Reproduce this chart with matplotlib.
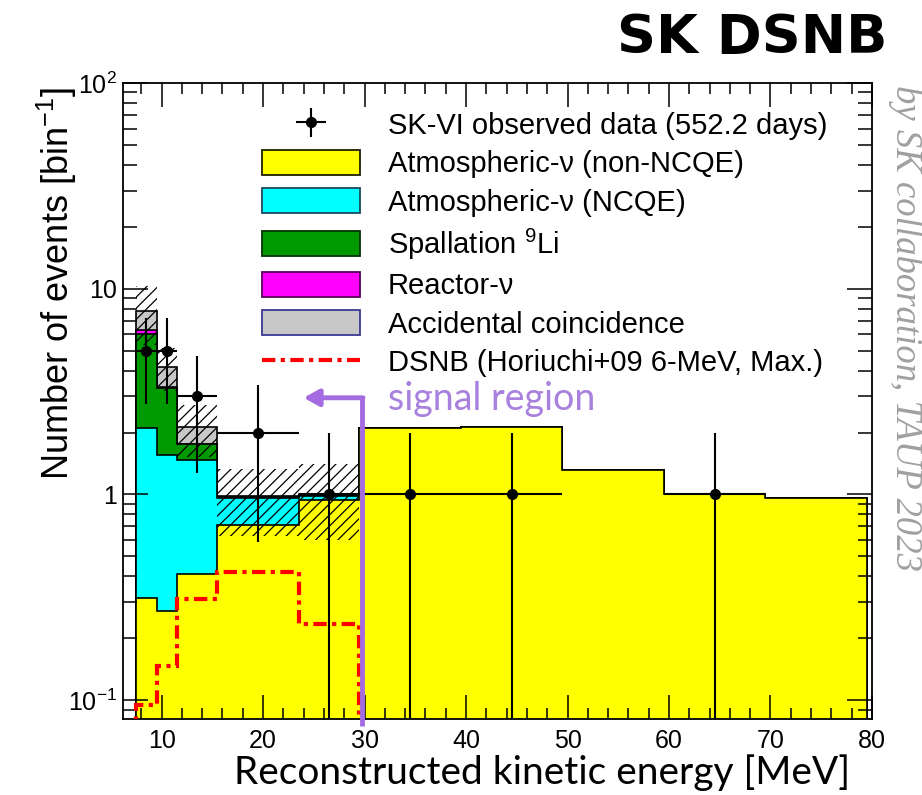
import matplotlib
matplotlib.use("Agg")
import matplotlib.pyplot as plt
import matplotlib.patches as mpatches
from matplotlib.lines import Line2D
from matplotlib.ticker import MultipleLocator, FixedLocator, FixedFormatter, LogLocator, NullFormatter
import numpy as np

plt.rcParams['font.family'] = ['Liberation Sans', 'DejaVu Sans']
plt.rcParams['mathtext.fontset'] = 'custom'
plt.rcParams['mathtext.rm'] = 'Liberation Sans'
plt.rcParams['mathtext.it'] = 'Liberation Sans:italic'
plt.rcParams['hatch.linewidth'] = 0.9

# energy bins [MeV]
edges = [7.5, 9.5, 11.5, 15.5, 23.5, 29.5, 39.5, 49.5, 59.5, 69.5, 79.5]

# background components per bin (events/bin)
atm_non_ncqe = [0.315, 0.27, 0.41, 0.71, 0.94, 2.10, 2.12, 1.31, 1.00, 0.965]
atm_ncqe = [1.785, 1.28, 1.06, 0.255, 0.045, 0, 0, 0, 0, 0]
spall_li9 = [3.93, 1.74, 0.28, 0.005, 0.005, 0, 0, 0, 0, 0]
reactor = [0.27, 0.03, 0.01, 0, 0, 0, 0, 0, 0, 0]
accidental = [1.5, 0.85, 0.36, 0.01, 0.01, 0, 0, 0, 0, 0]

# total background uncertainty (first five bins)
bkg_err = [2.5, 1.0, 0.6, 0.35, 0.4]

# DSNB prediction, Horiuchi+09 6 MeV
dsnb = [0.095, 0.146, 0.31, 0.42, 0.235]

# observed data
obs_x = [8.5, 10.5, 13.5, 19.5, 26.5, 34.5, 44.5, 64.5]
obs_xerr = [1, 1, 2, 4, 3, 5, 5, 5]
obs_n = [5, 5, 3, 2, 1, 1, 1, 1]

labels = ["SK-VI observed data (552.2 days)",
          "Atmospheric-\u03bd (non-NCQE)",
          "Atmospheric-\u03bd (NCQE)",
          "Spallation $^{9}$Li",
          "Reactor-\u03bd",
          "Accidental coincidence",
          "DSNB (Horiuchi+09 6-MeV, Max.)"]

fills = ['#ffff00', '#00ffff', '#009a00', '#ff00ff', '#c8c8c8']
edgec = ['#202000', '#1a4a5a', '#003300', '#5a005a', '#3a3a90']
dashdot = (0, (3.2, 1.3, 1, 1.3))

fig = plt.figure(figsize=(9.22, 7.95), dpi=100)
ax = fig.add_axes([0.133, 0.0956, 0.8127, 0.800])

stack = np.array([atm_non_ncqe, atm_ncqe, spall_li9, reactor, accidental])
cum = np.cumsum(stack, axis=0)

# ROOT-style stack: biggest first, smaller ones on top
for i in range(len(stack) - 1, -1, -1):
    ax.stairs(cum[i], edges, baseline=1e-3, fill=True, facecolor=fills[i],
              edgecolor='black', linewidth=1.2, zorder=1 + (4 - i) * 0.1)

# uncertainty band
nerr = len(bkg_err)
tot = cum[-1][:nerr]
err = np.array(bkg_err)
ax.bar(edges[:nerr], 2 * err, bottom=tot - err, width=np.diff(edges[:nerr + 1]),
       align='edge', fill=False, hatch='///', edgecolor='black', linewidth=0, zorder=2)

# signal prediction
ax.stairs(dsnb, edges[:len(dsnb) + 1], baseline=1e-3, color='#ff0000', linewidth=3,
          linestyle=dashdot, zorder=3)

# data points with sqrt(N) errors
n = np.array(obs_n, dtype=float)
lo = np.minimum(np.sqrt(n), n - 1e-3)
hi = np.sqrt(n)
data = ax.errorbar(obs_x, n, xerr=obs_xerr, yerr=[lo, hi], fmt='o', color='black',
                   ms=7, elinewidth=1.5, capsize=0, zorder=5)

ax.set_yscale('log')
ax.set_xlim(6.16, 80)
ax.set_ylim(0.081, 100)

ax.xaxis.set_major_locator(MultipleLocator(10))
ax.xaxis.set_minor_locator(MultipleLocator(2))
ax.yaxis.set_major_locator(FixedLocator([0.1, 1, 10, 100]))
ax.yaxis.set_major_formatter(FixedFormatter(['$10^{-1}$', '1', '10', '$10^{2}$']))
ax.yaxis.set_minor_locator(LogLocator(base=10, subs=np.arange(2, 10)))
ax.yaxis.set_minor_formatter(NullFormatter())
ax.tick_params(which='both', direction='in', top=True, right=True, labelsize=18, width=1.1)
ax.tick_params(axis='x', which='major', length=17, pad=7)
ax.tick_params(axis='x', which='minor', length=8)
ax.tick_params(axis='y', which='major', length=18, pad=4)
ax.tick_params(axis='y', which='minor', length=10)
for s in ax.spines.values():
    s.set_linewidth(1.3)

# legend
handles = [data,
           *[mpatches.Patch(facecolor=fills[i], edgecolor=edgec[i], linewidth=1.3) for i in range(5)],
           Line2D([], [], color='#ff0000', linewidth=3, linestyle=dashdot)]
ax.legend(handles, labels, loc='upper left', bbox_to_anchor=(262 / 922, 1 - 111 / 795),
          bbox_transform=fig.transFigure, frameon=False, fontsize=21, borderpad=0,
          borderaxespad=0, handlelength=3.36, handleheight=0.95, handletextpad=0.95,
          labelspacing=0.34)

# signal region marker
purple = '#a56be0'
ax.plot([29.7, 29.7], [0.075, 2.95], color=purple, linewidth=3.5, clip_on=False,
        solid_capstyle='butt', zorder=6)
ax.annotate('', xy=(24.0, 2.95), xytext=(29.85, 2.95),
            arrowprops=dict(arrowstyle='-|>,head_length=0.9,head_width=0.5',
                            color=purple, lw=3.5, shrinkA=0, shrinkB=0), zorder=6)
ax.text(32.3, 2.9, 'signal region', color='#a880dd', fontsize=27, family='Lato',
        ha='left', va='center', zorder=6)

# titles and axis labels
fig.text(57 / 922, 1 - 283 / 795, 'Number of events [bin$^{-1}$]', rotation=90,
         ha='center', va='center', fontsize=26)
fig.text(542 / 922, 1 - 773 / 795, 'Reconstructed kinetic energy [MeV]',
         ha='center', va='center', fontsize=28, family='Lato')
fig.text(887 / 922, 1 - 38 / 795, 'SK DSNB', ha='right', va='center', fontsize=39,
         family='DejaVu Sans', fontweight='bold')
fig.text(905 / 922, 1 - 328 / 795, 'by SK collaboration, TAUP 2023', rotation=-90,
         ha='center', va='center', fontsize=26.5, family='Liberation Serif',
         style='italic', color='#a0a0a0')

fig.savefig('out.png', dpi=100)
